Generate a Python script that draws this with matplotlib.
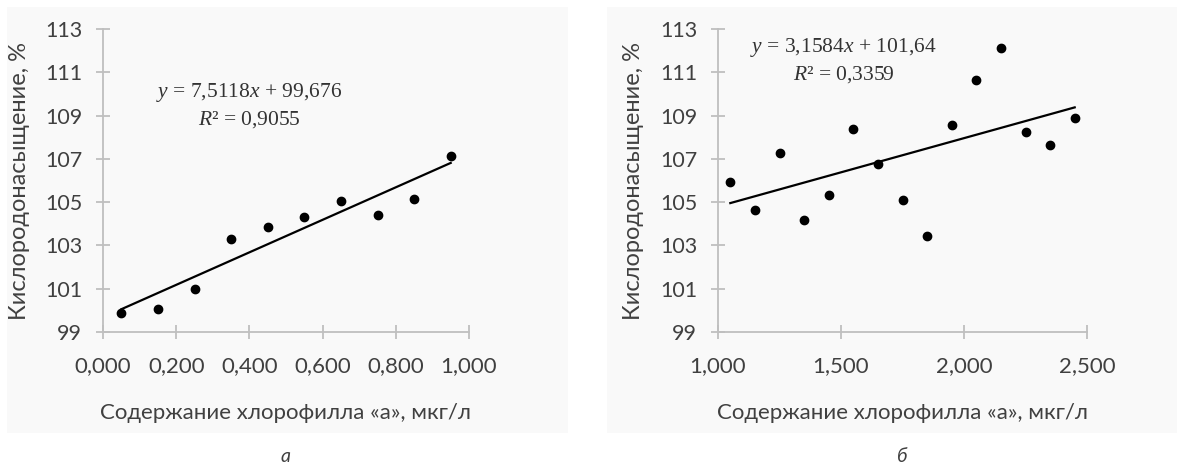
import matplotlib.pyplot as plt
from matplotlib.patches import Rectangle

# Данные (а): хлорофилл 0-1 мкг/л
chl_a = [0.05, 0.15, 0.25, 0.35, 0.45, 0.55, 0.65, 0.75, 0.85, 0.95]
oxy_a = [99.88, 100.04, 100.98, 103.30, 103.87, 104.32, 105.04, 104.41, 105.16, 107.14]
slope_a, intercept_a = 7.5118, 99.676

# Данные (б): хлорофилл 1-2.5 мкг/л
chl_b = [1.05, 1.15, 1.25, 1.35, 1.45, 1.55, 1.65, 1.75, 1.85, 1.95, 2.05, 2.15, 2.25, 2.35, 2.45]
oxy_b = [105.94, 104.65, 107.26, 104.19, 105.32, 108.36, 106.77, 105.11, 103.45, 108.56,
         110.64, 112.11, 108.26, 107.63, 108.89]
slope_b, intercept_b = 3.1584, 101.64

y_ticks = [99, 101, 103, 105, 107, 109, 111, 113]
x_ticks_a = [0.0, 0.2, 0.4, 0.6, 0.8, 1.0]
x_ticks_b = [1.0, 1.5, 2.0, 2.5]

plt.rcParams['font.family'] = ['Lato', 'DejaVu Sans']
plt.rcParams['mathtext.fontset'] = 'custom'
plt.rcParams['mathtext.it'] = 'Liberation Serif:italic'
plt.rcParams['mathtext.rm'] = 'Liberation Serif'

W, H = 1177, 469
fig = plt.figure(figsize=(W / 100, H / 100), dpi=100)
fig.patch.set_facecolor('white')

# светло-серые подложки панелей
fig.add_artist(Rectangle((7 / W, 1 - 433 / H), 561 / W, 426 / H, transform=fig.transFigure,
                         facecolor='#f9f9f9', edgecolor='none', zorder=0))
fig.add_artist(Rectangle((607 / W, 1 - 433 / H), 570 / W, 426 / H, transform=fig.transFigure,
                         facecolor='#f9f9f9', edgecolor='none', zorder=0))

axis_color = '#bfbfbf'
text_color = '#404040'


def make_panel(left_px, right_px, x, y, slope, intercept, xticks, xlim, eq, r2, eq_xy, letter):
    ax = fig.add_axes([left_px / W, 1 - 332 / H, (right_px - left_px) / W, 303 / H])
    ax.set_facecolor('none')
    ax.scatter(x, y, s=36, color='black', zorder=3)
    line_x = [min(x), max(x)]
    line_y = [slope * v + intercept for v in line_x]
    ax.plot(line_x, line_y, color='black', linewidth=1.6, zorder=2)

    ax.set_xlim(xlim)
    ax.set_ylim(99, 113)
    ax.set_yticks(y_ticks)
    ax.set_xticks(xticks)
    ax.set_xticklabels([f'{v:.3f}'.replace('.', ',') for v in xticks])
    for s in ['top', 'right']:
        ax.spines[s].set_visible(False)
    for s in ['left', 'bottom']:
        ax.spines[s].set_color(axis_color)
        ax.spines[s].set_linewidth(1.3)
    ax.tick_params(axis='both', direction='inout', length=10, width=1.3, color=axis_color,
                   labelcolor=text_color, labelsize=16)
    ax.tick_params(axis='y', labelsize=15.5, pad=10)
    ax.tick_params(axis='x', pad=12)

    ax.set_xlabel('Содержание хлорофилла «а», мкг/л', fontsize=16, color=text_color)
    ax.xaxis.set_label_coords(0.5, -0.235)
    ax.set_ylabel('Кислородонасыщение, %', fontsize=17, color=text_color)
    ax.yaxis.set_label_coords(-0.2, 0.5)

    ax.text(eq_xy[0], eq_xy[1], eq, transform=ax.transAxes, ha='center', va='center',
            fontsize=15.5, family='Liberation Serif', color='#333333')
    ax.text(eq_xy[0], eq_xy[1] - 0.09, r2, transform=ax.transAxes, ha='center', va='center',
            fontsize=15.5, family='Liberation Serif', color='#333333')
    ax.text(0.5, -0.41, letter, transform=ax.transAxes, ha='center', va='center',
            fontsize=14, style='italic', color=text_color)
    return ax


make_panel(103, 469, chl_a, oxy_a, slope_a, intercept_a, x_ticks_a, (0, 1.0),
           r'$y$ = 7,5118$x$ + 99,676', r'$R$² = 0,9055', (0.40, 0.79), 'а')
make_panel(718, 1087, chl_b, oxy_b, slope_b, intercept_b, x_ticks_b, (1.0, 2.5),
           r'$y$ = 3,1584$x$ + 101,64', r'$R$² = 0,3359', (0.34, 0.94), 'б')

fig.savefig('out.png', dpi=100)
